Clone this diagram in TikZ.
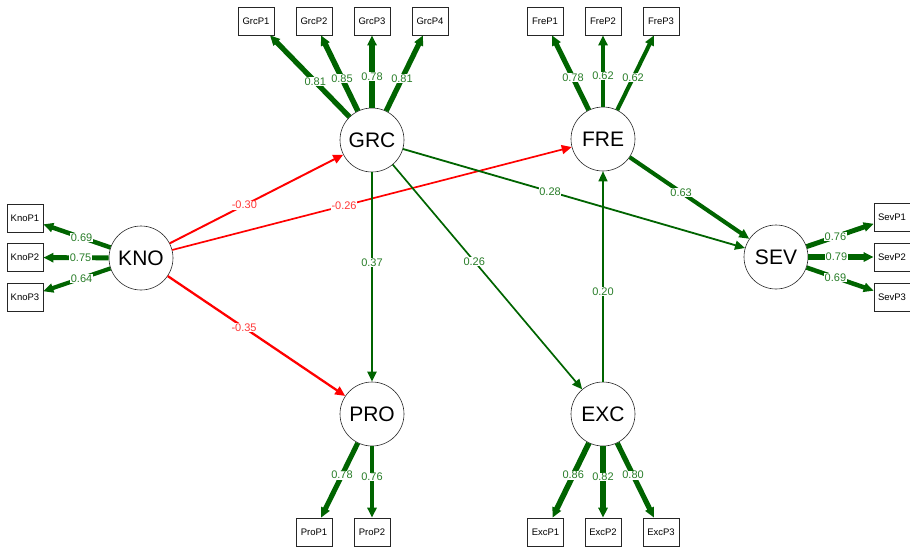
\documentclass[tikz,border=0pt]{standalone}
\usepackage{fontspec}
\setmainfont{Liberation Sans}
\usetikzlibrary{arrows.meta}
\definecolor{pathgreen}{RGB}{0,100,0}
\definecolor{labgreen}{RGB}{40,125,40}
\definecolor{pathred}{RGB}{255,0,0}
\definecolor{labred}{RGB}{255,55,55}
\begin{document}
\begin{tikzpicture}[x=1pt,y=-1pt,
		latent/.style={circle,draw=black!85,line width=0.6pt,fill=white,minimum size=64pt,inner sep=0pt,font=\fontsize{21}{21}\selectfont},
		manifest/.style={rectangle,draw=black!85,line width=0.6pt,fill=white,minimum width=36pt,minimum height=28pt,inner sep=0pt,font=\fontsize{9.5}{9.5}\selectfont},
		posedge/.style={draw=pathgreen,line width={6.5pt*#1},-{Triangle[length=10pt,width=9pt]}},
		negedge/.style={draw=pathred,line width={6.5pt*#1},-{Triangle[length=10pt,width=9pt]}},
		poslab/.style={fill=white,inner sep=0.5pt,pos=0.43,text=labgreen,font=\fontsize{11}{11}\selectfont},
		neglab/.style={fill=white,inner sep=0.5pt,pos=0.43,text=labred,font=\fontsize{11}{11}\selectfont}]
	\useasboundingbox (0,0) rectangle (910,550);
	% latent variables
	\node[latent] (GRC) at (372,140) {GRC};
	\node[latent] (FRE) at (603,139) {FRE};
	\node[latent] (KNO) at (141,258) {KNO};
	\node[latent] (SEV) at (776,257) {SEV};
	\node[latent] (PRO) at (372,414) {PRO};
	\node[latent] (EXC) at (603,414) {EXC};
	% indicators
	\foreach \n/\x/\v in {1/256/0.81,2/314/0.85,3/372/0.78,4/430/0.81} {
		\node[manifest] (GrcP\n) at (\x,21) {GrcP\n};
		\draw[posedge=\v] (GRC) -- node[poslab] {\v} (GrcP\n);
	}
	\foreach \n/\x/\v in {1/545/0.78,2/603/0.62,3/661/0.62} {
		\node[manifest] (FreP\n) at (\x,21) {FreP\n};
		\draw[posedge=\v] (FRE) -- node[poslab] {\v} (FreP\n);
	}
	\foreach \n/\y/\v in {1/218/0.69,2/257.5/0.75,3/297.5/0.64} {
		\node[manifest] (KnoP\n) at (25,\y) {KnoP\n};
		\draw[posedge=\v] (KNO) -- node[poslab] {\v} (KnoP\n);
	}
	\foreach \n/\y/\v in {1/217.5/0.76,2/257/0.79,3/297/0.69} {
		\node[manifest] (SevP\n) at (892,\y) {SevP\n};
		\draw[posedge=\v] (SEV) -- node[poslab] {\v} (SevP\n);
	}
	\foreach \n/\x/\v in {1/314/0.78,2/372/0.76} {
		\node[manifest] (ProP\n) at (\x,532) {ProP\n};
		\draw[posedge=\v] (PRO) -- node[poslab] {\v} (ProP\n);
	}
	\foreach \n/\x/\v in {1/545.5/0.86,2/603/0.82,3/661/0.80} {
		\node[manifest] (ExcP\n) at (\x,532) {ExcP\n};
		\draw[posedge=\v] (EXC) -- node[poslab] {\v} (ExcP\n);
	}
	% structural paths
	\draw[negedge=0.30] (KNO) -- node[neglab] {-0.30} (GRC);
	\draw[negedge=0.26] (KNO) -- node[neglab] {-0.26} (FRE);
	\draw[negedge=0.35] (KNO) -- node[neglab] {-0.35} (PRO);
	\draw[posedge=0.37] (GRC) -- node[poslab] {0.37} (PRO);
	\draw[posedge=0.26] (GRC) -- node[poslab] {0.26} (EXC);
	\draw[posedge=0.28] (GRC) -- node[poslab] {0.28} (SEV);
	\draw[posedge=0.63] (FRE) -- node[poslab] {0.63} (SEV);
	\draw[posedge=0.20] (EXC) -- node[poslab] {0.20} (FRE);
\end{tikzpicture}
\end{document}
